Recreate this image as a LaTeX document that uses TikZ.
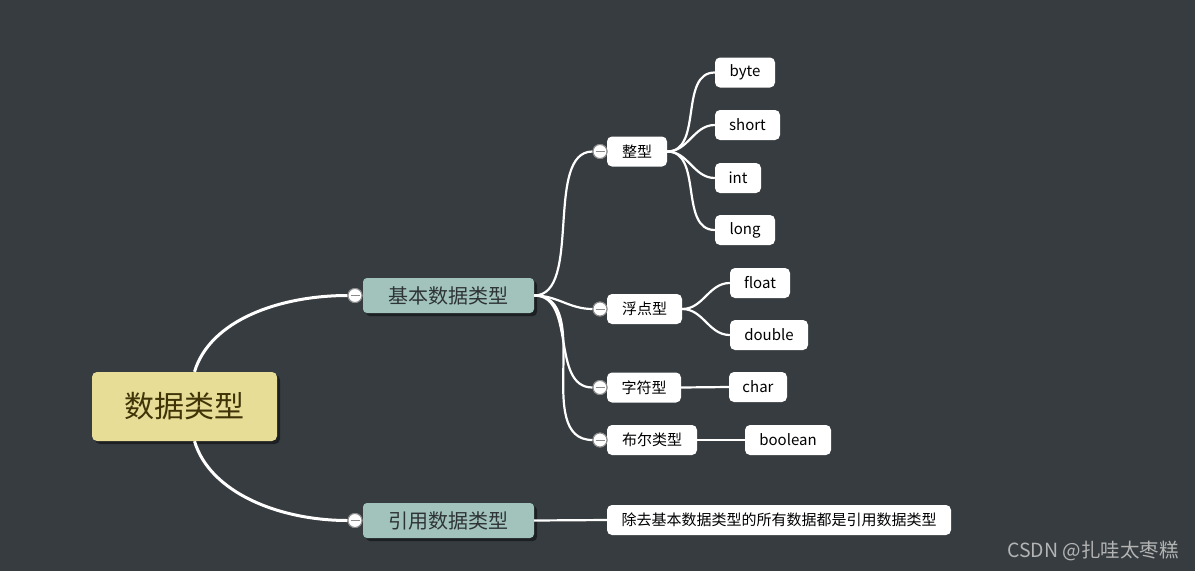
\documentclass[tikz,border=0pt]{standalone}
\usepackage{fontspec}
\setmainfont{Noto Sans CJK SC}
\usetikzlibrary{shadows}
\definecolor{bg}{HTML}{363C40}
\definecolor{rootc}{HTML}{E8DD97}
\definecolor{roottext}{HTML}{3F3408}
\definecolor{mainc}{HTML}{A2C3BC}
\definecolor{maintext}{HTML}{2E3436}
\definecolor{ringc}{HTML}{8A8A8A}
\definecolor{wmark}{HTML}{B4B4B4}
\tikzset{
  rootbox/.style={fill=rootc, rounded corners=5pt, minimum width=185pt, minimum height=69pt, inner sep=0pt,
    font=\fontsize{30}{30}\selectfont, text=roottext,
    drop shadow={shadow xshift=3pt, shadow yshift=-3pt, opacity=0.45, fill=black}},
  mainbox/.style={fill=mainc, rounded corners=4pt, minimum width=171pt, minimum height=35pt, inner sep=0pt,
    font=\fontsize{20}{20}\selectfont, text=maintext,
    drop shadow={shadow xshift=3pt, shadow yshift=-3pt, opacity=0.45, fill=black}},
  leafbox/.style={fill=white, rounded corners=5pt, minimum height=30pt, inner sep=0pt,
    font=\fontsize{15}{15}\selectfont, text=black},
  minusdot/.style={circle, fill=white, draw=ringc, line width=1pt, minimum size=14pt, inner sep=0pt,
    path picture={\draw[ringc, line width=1pt] ([xshift=-4.5pt]path picture bounding box.center) -- ([xshift=4.5pt]path picture bounding box.center);}},
  thick link/.style={white, line width=3pt},
  link/.style={white, line width=2.2pt},
}
\begin{document}
\begin{tikzpicture}[x=1pt,y=-1pt]
\fill[bg] (0,0) rectangle (1195,571);
\useasboundingbox (0,0) rectangle (1195,571);

% nodes
\node[rootbox] (root) at (184.5,406.5) {数据类型};
\node[mainbox] (basic) at (448.5,295.5) {基本数据类型};
\node[mainbox] (ref) at (448.5,520.5) {引用数据类型};
\node[minusdot] (cbasic) at (355,295.5) {};
\node[minusdot] (cref) at (355,520.5) {};

\node[leafbox, minimum width=60pt] (zx) at (637,151.5) {整型};
\node[leafbox, minimum width=75pt] (fd) at (644.5,309) {浮点型};
\node[leafbox, minimum width=74pt] (zf) at (644,387.5) {字符型};
\node[leafbox, minimum width=90pt] (be) at (652,440) {布尔类型};
\node[minusdot] (czx) at (600,151.5) {};
\node[minusdot] (cfd) at (600,309) {};
\node[minusdot] (czf) at (600,387.5) {};
\node[minusdot] (cbe) at (600,440) {};

\node[leafbox, minimum width=60pt] (byte) at (745,72.5) {byte};
\node[leafbox, minimum width=65pt] (short) at (747.5,125) {short};
\node[leafbox, minimum width=46pt] (intt) at (738,178) {int};
\node[leafbox, minimum width=60pt] (long) at (745,230) {long};
\node[leafbox, minimum width=60pt] (float) at (760,283) {float};
\node[leafbox, minimum width=78pt] (double) at (769,335) {double};
\node[leafbox, minimum width=58pt] (char) at (758,387) {char};
\node[leafbox, minimum width=86pt] (boolean) at (788,440) {boolean};
\node[leafbox, minimum width=344pt, font=\fontsize{15}{15}\selectfont] (desc) at (779,520) {除去基本数据类型的所有数据都是引用数据类型};

\node[text=wmark, font=\fontsize{19.5}{19.5}\selectfont] (wm) at (1093,551) {CSDN @扎哇太枣糕};

% connectors
\draw[thick link] ([xshift=10pt]root.north) .. controls (210,320) and (280,295.5) .. (cbasic.west);
\draw[thick link] ([xshift=10pt]root.south) .. controls (210,493) and (280,520.5) .. (cref.west);
\draw[link] (ref.east) -- (desc.west);

\draw[link] (basic.east) to[out=0,in=180,looseness=0.8] (czx.west);
\draw[link] (basic.east) to[out=0,in=180] (cfd.west);
\draw[link] (basic.east) to[out=0,in=180] (czf.west);
\draw[link] (basic.east) to[out=0,in=180] (cbe.west);

\draw[link] (zx.east) to[out=0,in=180] (byte.west);
\draw[link] (zx.east) to[out=0,in=180] (short.west);
\draw[link] (zx.east) to[out=0,in=180] (intt.west);
\draw[link] (zx.east) to[out=0,in=180] (long.west);
\draw[link] (fd.east) to[out=0,in=180] (float.west);
\draw[link] (fd.east) to[out=0,in=180] (double.west);
\draw[link] (zf.east) -- (char.west);
\draw[link] (be.east) -- (boolean.west);

% redraw circles over links
\node[minusdot] at (cbasic) {};
\node[minusdot] at (cref) {};
\node[minusdot] at (czx) {};
\node[minusdot] at (cfd) {};
\node[minusdot] at (czf) {};
\node[minusdot] at (cbe) {};
\end{tikzpicture}
\end{document}
